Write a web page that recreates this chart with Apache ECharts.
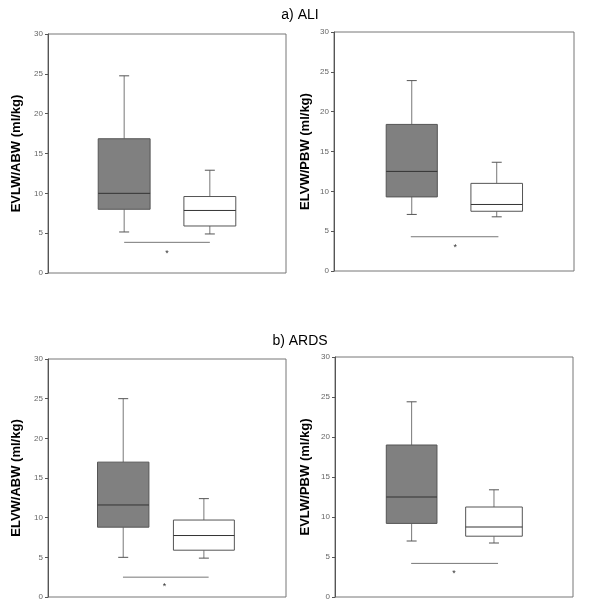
<!DOCTYPE html>
<html>
<head>
<meta charset="utf-8">
<script src="https://cdn.jsdelivr.net/npm/echarts@6/dist/echarts.min.js"></script>
<style>html,body{margin:0;padding:0;background:#fff}#c{width:600px;height:613px}</style>
</head>
<body>
<div id="c"></div>
<script>
// ---- data (box stats: [lower whisker, Q1, median, Q3, upper whisker]) ----
const sectionTitles = ['a) ALI', 'b) ARDS'];
const yAxisNames = ['EVLW/ABW (ml/kg)', 'ELVW/PBW (ml/kg)', 'ELVW/ABW (ml/kg)', 'EVLW/PBW (ml/kg)'];
const yTicks = [0, 5, 10, 15, 20, 25, 30];
const aliAbwGroup1 = [5.15, 8.0, 10.0, 16.85, 24.75];
const aliAbwGroup2 = [4.9, 5.9, 7.85, 9.6, 12.9];
const aliPbwGroup1 = [7.1, 9.3, 12.5, 18.4, 23.9];
const aliPbwGroup2 = [6.8, 7.5, 8.35, 11.0, 13.65];
const ardsAbwGroup1 = [5.0, 8.8, 11.6, 17.0, 25.0];
const ardsAbwGroup2 = [4.9, 5.9, 7.75, 9.7, 12.4];
const ardsPbwGroup1 = [7.0, 9.2, 12.5, 19.0, 24.4];
const ardsPbwGroup2 = [6.75, 7.6, 8.75, 11.25, 13.4];
const sigLineY = [3.85, 4.3, 2.5, 4.2];
const starY = [2.4, 3.0, 1.35, 2.9];
const significance = ['*', '*', '*', '*'];

const panelBoxes = [
  [aliAbwGroup1, aliAbwGroup2],
  [aliPbwGroup1, aliPbwGroup2],
  [ardsAbwGroup1, ardsAbwGroup2],
  [ardsPbwGroup1, ardsPbwGroup2]
];

// ---- layout ----
const grids = [
  {left: 48, top: 34, width: 238, height: 239},
  {left: 334, top: 32, width: 240, height: 239},
  {left: 48, top: 359, width: 238, height: 238},
  {left: 335, top: 357, width: 238, height: 240}
];
const nameGaps = [25, 22, 25, 23];
const boxCenters = [[0.32, 0.68], [0.324, 0.678], [0.316, 0.655], [0.322, 0.668]];
const boxWidths = [[0.218, 0.218], [0.213, 0.215], [0.216, 0.256], [0.213, 0.238]];
const sigX = [[0.32, 0.68], [0.32, 0.685], [0.315, 0.675], [0.32, 0.685]];
const starX = [0.5, 0.505, 0.49, 0.5];
const boxFills = ['#808080', '#ffffff'];

const chart = echarts.init(document.getElementById('c'));

const xAxes = [], yAxes = [], series = [];
grids.forEach((g, i) => {
  xAxes.push({gridIndex: i, type: 'value', min: 0, max: 1, show: false});
  yAxes.push({
    gridIndex: i, type: 'value', min: yTicks[0], max: yTicks[yTicks.length - 1], interval: 5,
    name: yAxisNames[i], nameLocation: 'middle', nameGap: nameGaps[i],
    nameTextStyle: {fontFamily: 'Liberation Sans, Arial', fontWeight: 'bold', fontSize: 13, color: '#000'},
    axisLine: {show: true, lineStyle: {color: '#555', width: 1}},
    axisTick: {show: true, length: 3, lineStyle: {color: '#555'}},
    axisLabel: {fontSize: 8, color: '#666', margin: 5, fontFamily: 'Liberation Sans, Arial'},
    splitLine: {show: false}
  });
  const boxData = panelBoxes[i].map((s, k) => [k].concat(s));
  series.push({
    type: 'custom', xAxisIndex: i, yAxisIndex: i,
    data: boxData,
    renderItem: function (params, api) {
      const k = api.value(0);
      const cx = boxCenters[i][k];
      const w = boxWidths[i][k];
      const lo = api.coord([cx, api.value(1)]);
      const q1 = api.coord([cx, api.value(2)]);
      const md = api.coord([cx, api.value(3)]);
      const q3 = api.coord([cx, api.value(4)]);
      const hi = api.coord([cx, api.value(5)]);
      const left = api.coord([cx - w / 2, 0])[0];
      const right = api.coord([cx + w / 2, 0])[0];
      const cap = 5;
      const lineC = '#555';
      const whC = '#777';
      return {
        type: 'group',
        children: [
          {type: 'line', shape: {x1: hi[0], y1: hi[1], x2: q3[0], y2: q3[1]}, style: {stroke: whC, lineWidth: 1}},
          {type: 'line', shape: {x1: lo[0], y1: lo[1], x2: q1[0], y2: q1[1]}, style: {stroke: whC, lineWidth: 1}},
          {type: 'line', shape: {x1: hi[0] - cap, y1: hi[1], x2: hi[0] + cap, y2: hi[1]}, style: {stroke: lineC, lineWidth: 1}},
          {type: 'line', shape: {x1: lo[0] - cap, y1: lo[1], x2: lo[0] + cap, y2: lo[1]}, style: {stroke: lineC, lineWidth: 1}},
          {type: 'rect', shape: {x: left, y: q3[1], width: right - left, height: q1[1] - q3[1]},
            style: {fill: boxFills[k], stroke: lineC, lineWidth: 1}},
          {type: 'line', shape: {x1: left, y1: md[1], x2: right, y2: md[1]}, style: {stroke: '#333', lineWidth: 1}}
        ]
      };
    }
  });
  series.push({
    type: 'custom', xAxisIndex: i, yAxisIndex: i,
    data: [[sigLineY[i], starY[i]]],
    renderItem: function (params, api) {
      const a = api.coord([sigX[i][0], api.value(0)]);
      const b = api.coord([sigX[i][1], api.value(0)]);
      const s = api.coord([starX[i], api.value(1)]);
      return {
        type: 'group',
        children: [
          {type: 'line', shape: {x1: a[0], y1: a[1], x2: b[0], y2: b[1]}, style: {stroke: '#777', lineWidth: 1}},
          {type: 'text', x: s[0], y: s[1], style: {text: significance[i], fill: '#333', fontSize: 9,
            fontFamily: 'Liberation Sans, Arial', align: 'center', verticalAlign: 'middle'}}
        ]
      };
    }
  });
});

chart.setOption({
  animation: false,
  backgroundColor: '#fff',
  title: [
    {text: sectionTitles[0], left: 'center', top: 3, textStyle: {fontFamily: 'Liberation Sans, Arial', fontWeight: 'normal', fontSize: 14, color: '#000'}},
    {text: sectionTitles[1], left: 'center', top: 329, textStyle: {fontFamily: 'Liberation Sans, Arial', fontWeight: 'normal', fontSize: 14, color: '#000'}}
  ],
  grid: grids.map(g => Object.assign({show: true, borderColor: '#777', borderWidth: 1, backgroundColor: 'transparent'}, g)),
  xAxis: xAxes,
  yAxis: yAxes,
  series: series
});
</script>
</body>
</html>
